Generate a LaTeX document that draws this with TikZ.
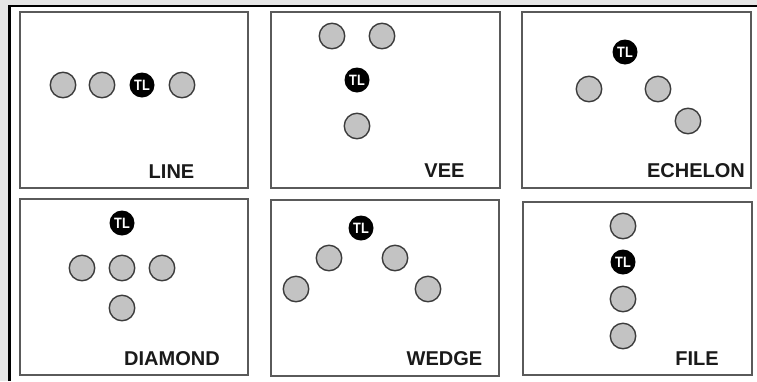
\documentclass[tikz,border=0pt]{standalone}
\usepackage{fontspec}
\setmainfont{Liberation Sans}
\definecolor{bggray}{HTML}{E6E6E6}
\definecolor{panelgray}{HTML}{5A5A5A}
\definecolor{membergray}{HTML}{C3C3C3}
\definecolor{memberedge}{HTML}{3C3C3C}
\definecolor{labelcolor}{HTML}{1A1A1A}
\begin{document}
\begin{tikzpicture}[x=1pt,y=-1pt,
  panel/.style={draw=panelgray, line width=1.8pt},
  member/.style={circle, fill=membergray, draw=memberedge, line width=1.4pt, minimum size=25.5pt, inner sep=0pt},
  leader/.style={circle, fill=black, minimum size=25pt, inner sep=0pt, text=white, font=\fontsize{15}{15}\selectfont\bfseries},
  lbl/.style={font=\fontsize{20}{20}\selectfont\bfseries, anchor=base, text=labelcolor, inner sep=0pt}]
\useasboundingbox (0,0) rectangle (757,381);
% background and outer frame
\fill[bggray] (0,0) rectangle (757,381);
\fill[white] (10,6) rectangle (757,381);
\draw[black, line width=2.6pt] (9.6,381) -- (9.6,5.8) -- (757,5.8);
% panels
\draw[panel] (20,12) rectangle (248,188);
\draw[panel] (271,12) rectangle (500,188);
\draw[panel] (522,12) rectangle (751,188);
\draw[panel] (20,199) rectangle (248,375);
\draw[panel] (271,200) rectangle (499,376);
\draw[panel] (523,202) rectangle (752,375);
% LINE
\node[member] (l1) at (63,85) {};
\node[member] (l2) at (102,85) {};
\node[leader] (ltl) at (142,85) {\scalebox{0.85}[1]{TL}};
\node[member] (l3) at (182,85) {};
\node[lbl] (lline) at (171.5,178) {LINE};
% VEE
\node[member] (v1) at (332,36) {};
\node[member] (v2) at (382,36) {};
\node[leader] (vtl) at (357,80) {\scalebox{0.85}[1]{TL}};
\node[member] (v3) at (357,126) {};
\node[lbl] (lvee) at (444.5,177) {VEE};
% ECHELON
\node[leader] (etl) at (625,52) {\scalebox{0.85}[1]{TL}};
\node[member] (e1) at (589,89) {};
\node[member] (e2) at (658,89) {};
\node[member] (e3) at (688,121) {};
\node[lbl] (lech) at (696,177) {ECHELON};
% DIAMOND
\node[leader] (dtl) at (122,223) {\scalebox{0.85}[1]{TL}};
\node[member] (d1) at (82,268) {};
\node[member] (d2) at (122,268) {};
\node[member] (d3) at (162,268) {};
\node[member] (d4) at (122,308) {};
\node[lbl] (ldia) at (172,365) {DIAMOND};
% WEDGE
\node[leader] (wtl) at (361,228) {\scalebox{0.85}[1]{TL}};
\node[member] (w1) at (329,258) {};
\node[member] (w2) at (395,258) {};
\node[member] (w3) at (296,289) {};
\node[member] (w4) at (428,289) {};
\node[lbl] (lwed) at (444.5,365) {WEDGE};
% FILE
\node[member] (f1) at (623,226) {};
\node[leader] (ftl) at (623,262) {\scalebox{0.85}[1]{TL}};
\node[member] (f2) at (623,299) {};
\node[member] (f3) at (623,336) {};
\node[lbl] (lfile) at (697,365) {FILE};
\end{tikzpicture}
\end{document}
